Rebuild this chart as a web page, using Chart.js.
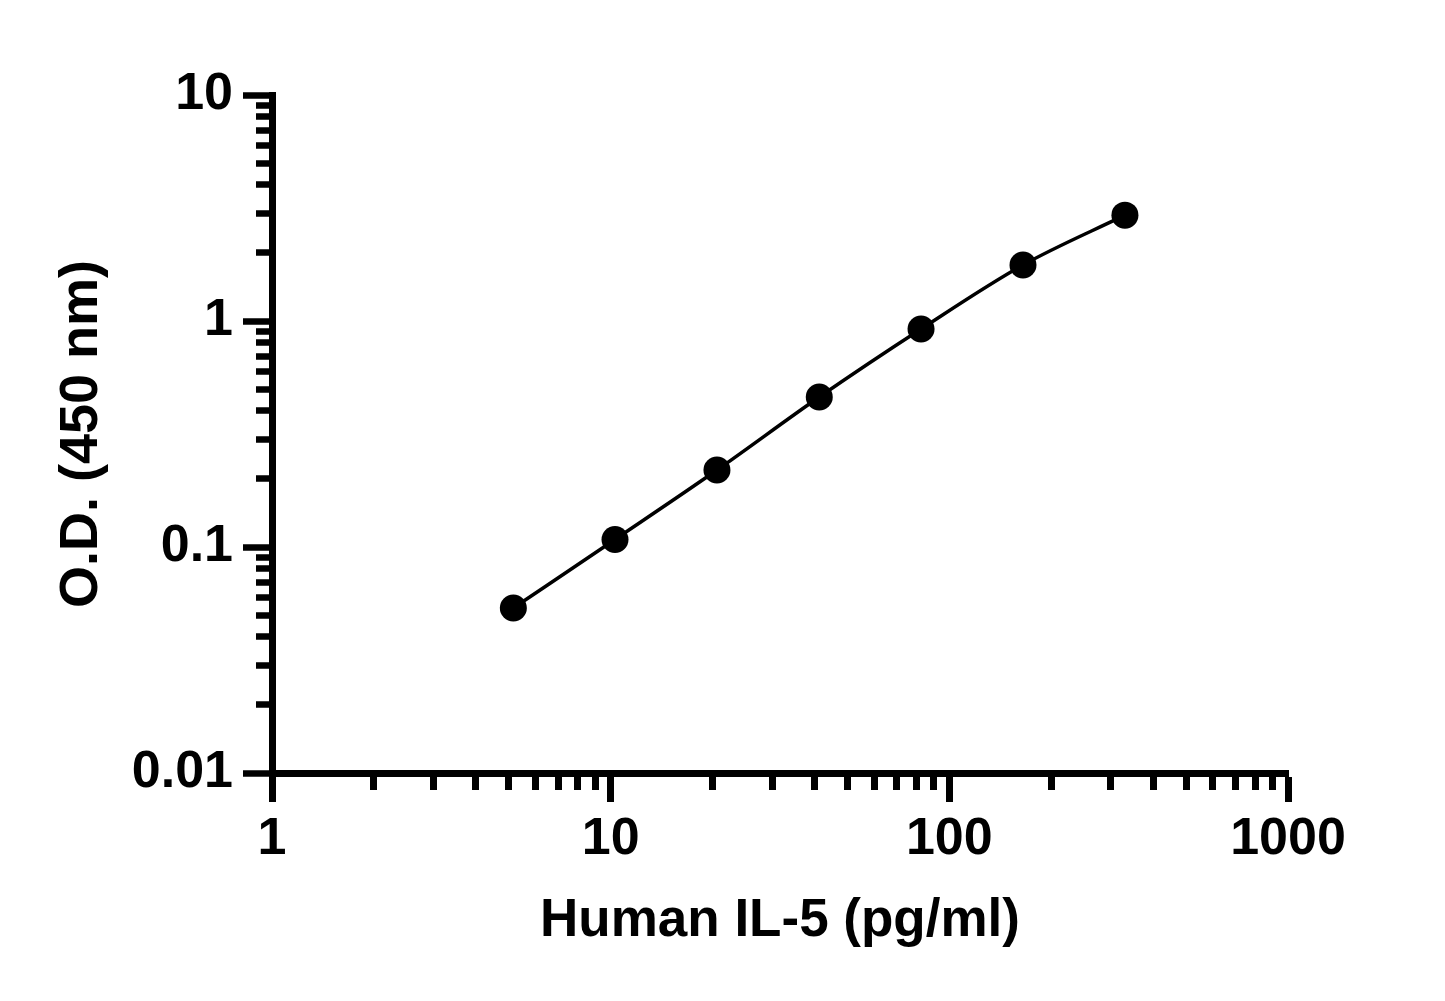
<!DOCTYPE html>
<html>
<head>
<meta charset="utf-8">
<script src="https://cdn.jsdelivr.net/npm/chart.js@4"></script>
<style>
html,body{margin:0;padding:0;background:#fff;}
canvas{display:block;}
</style>
</head>
<body>
<canvas id="c" width="1445" height="1001"></canvas>
<script>
// Data
const concentrations = [5.16, 10.3, 20.6, 41.3, 82.5, 165, 330];   // Human IL-5 (pg/ml)
const odValues = [0.0537, 0.108, 0.219, 0.461, 0.922, 1.77, 2.94]; // O.D. (450 nm)
const xTickValues = [1,2,3,4,5,6,7,8,9,10,20,30,40,50,60,70,80,90,100,200,300,400,500,600,700,800,900,1000];
const yTickValues = [0.01,0.02,0.03,0.04,0.05,0.06,0.07,0.08,0.09,0.1,0.2,0.3,0.4,0.5,0.6,0.7,0.8,0.9,1,2,3,4,5,6,7,8,9,10];
const xLabels = {1:'1', 10:'10', 100:'100', 1000:'1000'};
const yLabels = {0.01:'0.01', 0.1:'0.1', 1:'1', 10:'10'};
const xTitle = 'Human IL-5 (pg/ml)';
const yTitle = 'O.D. (450 nm)';

const FONT = '"Liberation Sans", Arial, Helvetica, sans-serif';
const isMajor = v => Math.abs(Math.log10(v) - Math.round(Math.log10(v))) < 1e-9;

const points = concentrations.map((x, i) => ({x: x, y: odValues[i]}));

new Chart(document.getElementById('c'), {
  type: 'scatter',
  data: {
    datasets: [{
      data: points,
      showLine: true,
      borderColor: '#000',
      borderWidth: 3.5,
      backgroundColor: '#000',
      pointBackgroundColor: '#000',
      pointBorderColor: '#000',
      pointRadius: 13.5,
      pointBorderWidth: 0,
      cubicInterpolationMode: 'monotone'
    }]
  },
  options: {
    responsive: false,
    animation: false,
    devicePixelRatio: 1,
    layout: {padding: {left: 0, right: 157, top: 95, bottom: 0}},
    plugins: {legend: {display: false}, tooltip: {enabled: false}},
    scales: {
      x: {
        type: 'logarithmic',
        position: 'bottom',
        min: 1, max: 1000,
        afterBuildTicks: s => { s.ticks = xTickValues.map(v => ({value: v, major: isMajor(v)})); },
        afterFit: s => { s.height = 1001 - 773; },
        border: {display: true, color: '#000', width: 7},
        grid: {
          drawOnChartArea: false,
          drawTicks: true,
          tickLength: 29,
          tickWidth: 7,
          tickColor: '#000',
          tickBorderDash: ctx => (ctx.tick && isMajor(ctx.tick.value)) ? [] : [13, 100]
        },
        ticks: {
          autoSkip: false,
          maxRotation: 0,
          padding: 6,
          color: '#000',
          font: {family: FONT, size: 52, weight: 'bold'},
          callback: v => xLabels[v] !== undefined ? xLabels[v] : ''
        },
        title: {
          display: true,
          text: xTitle,
          color: '#000',
          font: {family: FONT, size: 53, weight: 'bold'},
          padding: {top: 0, bottom: 48}
        }
      },
      y: {
        type: 'logarithmic',
        position: 'left',
        min: 0.01, max: 10,
        afterBuildTicks: s => { s.ticks = yTickValues.map(v => ({value: v, major: isMajor(v)})); },
        afterFit: s => { s.width = 272; },
        border: {display: true, color: '#000', width: 7},
        grid: {
          drawOnChartArea: false,
          drawTicks: true,
          tickLength: 29,
          tickWidth: 6.5,
          tickColor: '#000',
          tickBorderDash: ctx => (ctx.tick && isMajor(ctx.tick.value)) ? [] : [0, 13, 16, 100]
        },
        ticks: {
          autoSkip: false,
          padding: 10,
          color: '#000',
          font: {family: FONT, size: 52, weight: 'bold'},
          callback: v => {
            for (const k in yLabels) { if (Math.abs(Number(k) - v) < 1e-9) return yLabels[k]; }
            return '';
          }
        },
        title: {
          display: true,
          text: yTitle,
          color: '#000',
          font: {family: FONT, size: 54, weight: 'bold'},
          padding: {top: 50, bottom: 0}
        }
      }
    }
  }
});
</script>
</body>
</html>
